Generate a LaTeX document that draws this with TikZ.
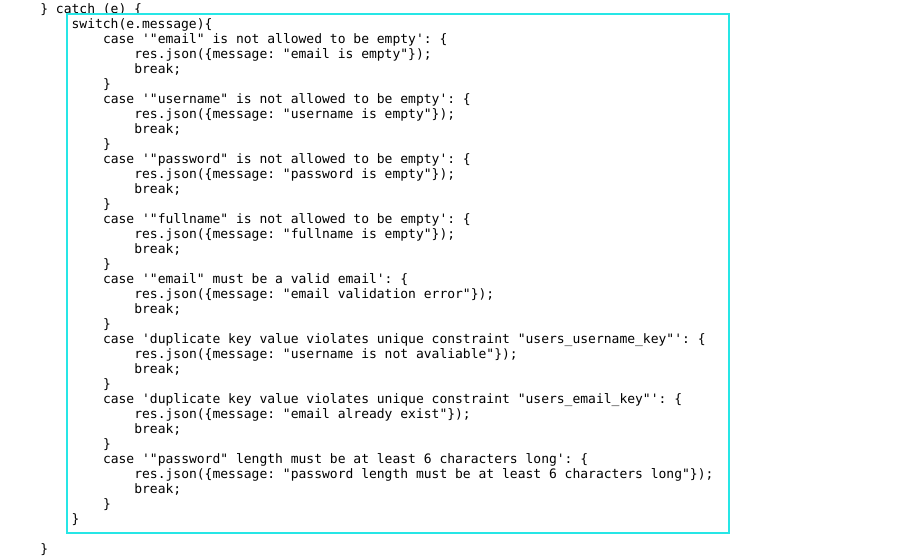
\documentclass[tikz,border=0pt]{standalone}
\usepackage{fontspec}
\setmonofont{DejaVu Sans Mono}
\definecolor{boxcyan}{RGB}{38,230,230}
\tikzset{codeline/.style={anchor=base west, font=\ttfamily\fontsize{13}{15}\selectfont}}
\begin{document}
\begin{tikzpicture}[y=1pt, x=1pt, yscale=-1, inner sep=0pt, outer sep=0pt]
\useasboundingbox[fill=white] (0,0) rectangle (909,557);
\node[codeline] (catch) at (40.3,13) {\}~catch~(e)~\{};
\path[draw=boxcyan,fill=white,line width=2pt] (67,14) rectangle (729,533);
\begin{scope}[shift={(0,28)}]
  \node[codeline] (switch) at (71.6,0) {switch(e.message)\{};
  % empty fields
  \node[codeline] (caseemail) at (103,15) {case '"email" is not allowed to be empty': \{};
  \node[codeline] (resemail) at (134.3,30) {res.json(\{message: "email is empty"\});};
  \node[codeline] (brkemail) at (134.3,45) {break;};
  \node[codeline] (endemail) at (103,60) {\}};
  \node[codeline] (caseuser) at (103,75) {case '"username" is not allowed to be empty': \{};
  \node[codeline] (resuser) at (134.3,90) {res.json(\{message: "username is empty"\});};
  \node[codeline] (brkuser) at (134.3,105) {break;};
  \node[codeline] (enduser) at (103,120) {\}};
  \node[codeline] (casepass) at (103,135) {case '"password" is not allowed to be empty': \{};
  \node[codeline] (respass) at (134.3,150) {res.json(\{message: "password is empty"\});};
  \node[codeline] (brkpass) at (134.3,165) {break;};
  \node[codeline] (endpass) at (103,180) {\}};
  \node[codeline] (casefull) at (103,195) {case '"fullname" is not allowed to be empty': \{};
  \node[codeline] (resfull) at (134.3,210) {res.json(\{message: "fullname is empty"\});};
  \node[codeline] (brkfull) at (134.3,225) {break;};
  \node[codeline] (endfull) at (103,240) {\}};
  % validation and constraints
  \node[codeline] (casevalid) at (103,255) {case '"email" must be a valid email': \{};
  \node[codeline] (resvalid) at (134.3,270) {res.json(\{message: "email validation error"\});};
  \node[codeline] (brkvalid) at (134.3,285) {break;};
  \node[codeline] (endvalid) at (103,300) {\}};
  \node[codeline] (caseukey) at (103,315) {case 'duplicate key value violates unique constraint "users\_username\_key"': \{};
  \node[codeline] (resukey) at (134.3,330) {res.json(\{message: "username is not avaliable"\});};
  \node[codeline] (brkukey) at (134.3,345) {break;};
  \node[codeline] (endukey) at (103,360) {\}};
  \node[codeline] (caseekey) at (103,375) {case 'duplicate key value violates unique constraint "users\_email\_key"': \{};
  \node[codeline] (resekey) at (134.3,390) {res.json(\{message: "email already exist"\});};
  \node[codeline] (brkekey) at (134.3,405) {break;};
  \node[codeline] (endekey) at (103,420) {\}};
  \node[codeline] (caselen) at (103,435) {case '"password" length must be at least 6 characters long': \{};
  \node[codeline] (reslen) at (134.3,450) {res.json(\{message: "password length must be at least 6 characters long"\});};
  \node[codeline] (brklen) at (134.3,465) {break;};
  \node[codeline] (endlen) at (103,480) {\}};
  \node[codeline] (endswitch) at (71.6,495) {\}};
  \node[codeline] (endcatch) at (40.3,525) {\}};
\end{scope}
\end{tikzpicture}
\end{document}
